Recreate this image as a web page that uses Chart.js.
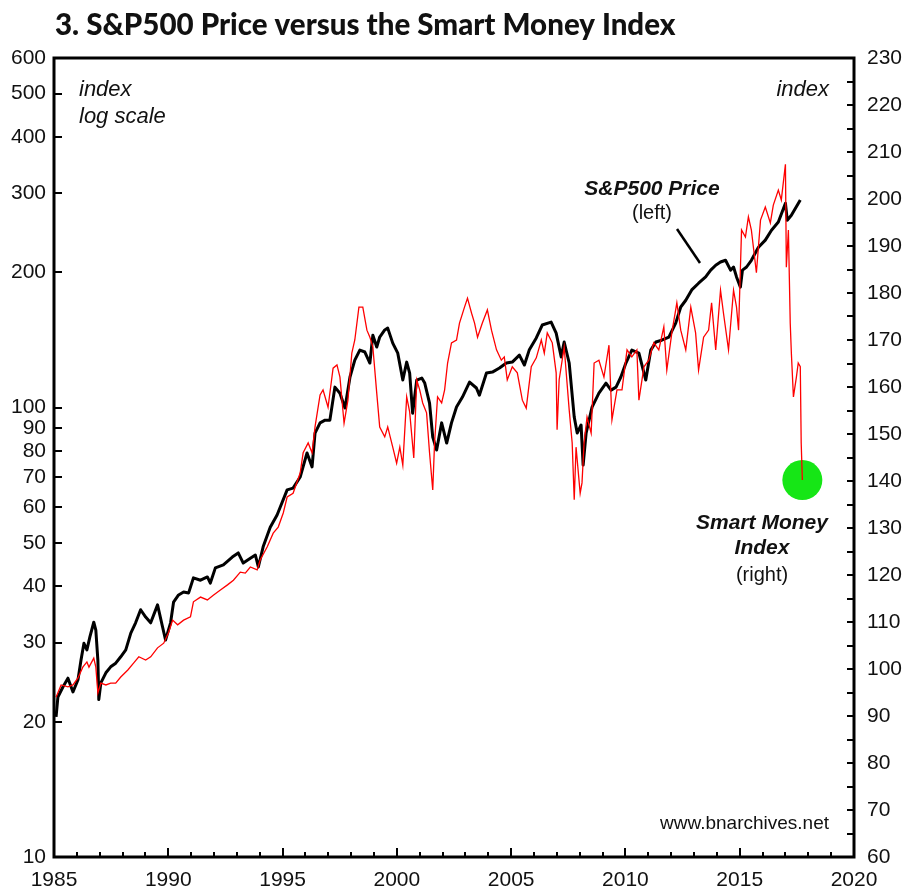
<!DOCTYPE html>
<html>
<head>
<meta charset="utf-8">
<script src="https://cdn.jsdelivr.net/npm/chart.js@4.4.0/dist/chart.umd.min.js"></script>
<style>
  html, body { margin: 0; padding: 0; background: #fff; }
</style>
</head>
<body>
<canvas id="myChart" width="909" height="890"></canvas>
<script>
// S&P500 price (left axis, log scale)
const spxDates = [
  1985.09, 1985.17, 1985.39, 1985.61, 1985.83, 1986.05, 1986.18, 1986.31, 1986.44, 1986.57,
  1986.74, 1986.83, 1986.92, 1986.96, 1987.05, 1987.27, 1987.48, 1987.70, 1987.92, 1988.14,
  1988.36, 1988.57, 1988.79, 1989.01, 1989.23, 1989.53, 1989.75, 1989.88, 1990.10, 1990.23,
  1990.45, 1990.67, 1990.89, 1991.10, 1991.41, 1991.71, 1991.84, 1992.06, 1992.41, 1992.80,
  1993.06, 1993.28, 1993.59, 1993.81, 1993.94, 1994.15, 1994.46, 1994.76, 1994.90, 1995.20,
  1995.46, 1995.77, 1996.07, 1996.29, 1996.42, 1996.64, 1996.86, 1997.07, 1997.29, 1997.51,
  1997.73, 1997.95, 1998.16, 1998.38, 1998.60, 1998.82, 1998.95, 1999.12, 1999.25, 1999.47,
  1999.60, 1999.82, 2000.04, 2000.26, 2000.43, 2000.56, 2000.69, 2000.87, 2001.09, 2001.22,
  2001.43, 2001.57, 2001.74, 2001.96, 2002.18, 2002.39, 2002.61, 2002.87, 2003.18, 2003.48,
  2003.61, 2003.92, 2004.18, 2004.49, 2004.79, 2005.05, 2005.36, 2005.58, 2005.79, 2006.10,
  2006.36, 2006.75, 2006.97, 2007.19, 2007.32, 2007.54, 2007.76, 2007.89, 2008.06, 2008.15,
  2008.28, 2008.54, 2008.84, 2009.15, 2009.37, 2009.59, 2009.80, 2010.02, 2010.28, 2010.59,
  2010.89, 2011.11, 2011.33, 2011.59, 2011.90, 2012.20, 2012.42, 2012.64, 2012.90, 2013.20,
  2013.51, 2013.73, 2013.95, 2014.16, 2014.38, 2014.60, 2014.73, 2014.86, 2015.03, 2015.12,
  2015.30, 2015.51, 2015.82, 2016.12, 2016.39, 2016.69, 2017.00, 2017.08, 2017.26, 2017.65
];
const spxValues = [
  20.5, 22.7, 23.9, 25.0, 23.3, 24.8, 27.4, 29.9, 28.9, 30.9,
  33.3, 32.0, 27.4, 22.4, 24.4, 25.7, 26.5, 27.0, 27.9, 28.9,
  31.5, 33.2, 35.5, 34.2, 33.2, 36.4, 32.5, 30.4, 33.2, 36.9,
  38.3, 38.9, 38.7, 41.8, 41.3, 42.0, 40.7, 44.0, 44.7, 46.5,
  47.5, 45.1, 46.2, 47.0, 44.2, 49.0, 54.2, 57.7, 60.1, 65.6,
  66.2, 70.1, 79.3, 73.8, 87.8, 92.5, 93.8, 93.8, 111.1, 107.7,
  99.8, 117.0, 127.6, 134.3, 133.0, 125.7, 145.0, 136.4, 143.6, 148.9,
  150.3, 139.2, 132.2, 115.2, 126.3, 119.4, 97.2, 115.2, 116.4, 113.4,
  102.3, 86.0, 80.5, 92.5, 83.4, 92.5, 100.3, 105.6, 114.0, 110.6,
  106.6, 119.4, 120.0, 122.5, 125.7, 126.3, 130.9, 124.4, 134.3, 142.9,
  152.7, 155.0, 146.5, 129.7, 140.0, 125.7, 95.3, 87.8, 91.5, 74.5,
  87.8, 100.3, 107.7, 113.4, 109.4, 111.1, 117.0, 125.7, 134.3, 132.2,
  115.2, 134.3, 140.0, 141.3, 143.6, 154.2, 167.5, 173.4, 182.8, 189.2,
  195.4, 202.3, 207.5, 210.9, 212.8, 202.3, 205.6, 195.4, 185.4, 202.3,
  205.6, 212.8, 227.5, 236.0, 248.3, 258.8, 285.1, 261.3, 268.0, 289.7
];

// Smart Money Index (right axis)
const smiDates = [
  1985.09, 1985.31, 1985.61, 1985.83, 1986.05, 1986.26, 1986.44, 1986.53, 1986.74, 1986.83,
  1986.92, 1987.05, 1987.27, 1987.48, 1987.70, 1987.92, 1988.23, 1988.49, 1988.71, 1989.01,
  1989.23, 1989.53, 1989.80, 1990.01, 1990.19, 1990.41, 1990.67, 1990.97, 1991.10, 1991.41,
  1991.71, 1991.97, 1992.28, 1992.59, 1992.85, 1993.15, 1993.37, 1993.59, 1993.89, 1994.02,
  1994.33, 1994.59, 1994.81, 1995.03, 1995.20, 1995.46, 1995.77, 1995.90, 1996.12, 1996.29,
  1996.42, 1996.64, 1996.77, 1996.99, 1997.21, 1997.38, 1997.51, 1997.69, 1997.86, 1998.03,
  1998.16, 1998.34, 1998.51, 1998.69, 1998.82, 1998.95, 1999.12, 1999.25, 1999.47, 1999.60,
  1999.82, 1999.99, 2000.13, 2000.26, 2000.43, 2000.56, 2000.74, 2000.87, 2001.00, 2001.13,
  2001.30, 2001.43, 2001.57, 2001.65, 2001.78, 2001.96, 2002.09, 2002.22, 2002.39, 2002.61,
  2002.74, 2002.96, 2003.09, 2003.27, 2003.40, 2003.53, 2003.74, 2003.96, 2004.14, 2004.36,
  2004.57, 2004.70, 2004.83, 2005.05, 2005.27, 2005.49, 2005.66, 2005.88, 2006.10, 2006.32,
  2006.45, 2006.58, 2006.80, 2006.97, 2007.01, 2007.10, 2007.32, 2007.54, 2007.67, 2007.76,
  2007.84, 2008.02, 2008.10, 2008.19, 2008.32, 2008.50, 2008.63, 2008.84, 2009.06, 2009.28,
  2009.41, 2009.63, 2009.85, 2010.07, 2010.28, 2010.50, 2010.59, 2010.81, 2011.02, 2011.24,
  2011.46, 2011.68, 2011.81, 2012.03, 2012.25, 2012.42, 2012.64, 2012.86, 2013.07, 2013.20,
  2013.42, 2013.64, 2013.77, 2013.95, 2014.16, 2014.29, 2014.51, 2014.73, 2014.86, 2014.95,
  2015.08, 2015.25, 2015.38, 2015.51, 2015.73, 2015.91, 2016.12, 2016.34, 2016.47, 2016.69,
  2016.82, 2017.00, 2017.04, 2017.13, 2017.21, 2017.26, 2017.35, 2017.48, 2017.56, 2017.65,
  2017.69, 2017.74
];
const smiValues = [
  94.0, 96.6, 96.2, 96.6, 98.1, 100.4, 101.5, 100.4, 102.3, 100.4,
  94.9, 97.0, 96.6, 97.0, 97.0, 98.3, 99.8, 101.3, 102.6, 101.9,
  102.6, 104.5, 105.5, 107.7, 110.4, 109.4, 110.4, 111.1, 114.3, 115.3,
  114.7, 115.7, 116.8, 117.9, 118.9, 120.6, 120.4, 121.7, 121.1, 123.2,
  126.0, 128.9, 130.2, 133.2, 136.6, 137.4, 141.7, 146.0, 148.1, 146.0,
  151.5, 158.3, 159.4, 155.7, 164.0, 164.7, 162.1, 152.3, 157.2, 167.2,
  170.0, 177.0, 177.0, 172.1, 170.6, 168.5, 158.7, 151.5, 149.4, 151.5,
  147.2, 143.8, 147.2, 143.4, 157.9, 154.7, 144.9, 161.5, 159.4, 156.6,
  154.5, 146.0, 138.1, 148.1, 157.9, 156.6, 159.4, 165.1, 169.4, 170.0,
  173.6, 177.0, 178.9, 175.7, 173.6, 170.6, 173.6, 176.4, 172.1, 167.9,
  165.7, 166.4, 161.5, 164.3, 163.0, 157.2, 155.5, 164.3, 166.2, 170.0,
  167.2, 171.5, 169.4, 163.0, 150.9, 161.5, 168.5, 155.1, 148.1, 136.0,
  147.2, 137.4, 139.6, 148.1, 153.6, 150.2, 165.1, 165.7, 162.1, 168.9,
  153.0, 159.4, 159.4, 167.9, 166.4, 167.9, 157.2, 164.3, 165.7, 169.4,
  167.9, 172.8, 163.6, 171.5, 177.9, 172.1, 167.9, 177.0, 171.5, 163.6,
  170.6, 172.1, 177.9, 167.9, 180.6, 175.7, 167.9, 180.6, 177.0, 172.1,
  193.4, 191.9, 196.2, 193.4, 184.3, 195.5, 198.3, 194.9, 198.7, 201.9,
  199.8, 207.4, 185.5, 193.4, 173.6, 167.2, 157.9, 162.1, 165.1, 164.3,
  148.1, 140.2
];

// latest reading, highlighted
const markerDate = [2017.74];
const markerValue = [140.2];

// axes
const yearLabels = [1985, 1990, 1995, 2000, 2005, 2010, 2015, 2020];
const yearMinor = [1986, 1987, 1988, 1989, 1991, 1992, 1993, 1994, 1996, 1997, 1998, 1999,
  2001, 2002, 2003, 2004, 2006, 2007, 2008, 2009, 2011, 2012, 2013, 2014, 2016, 2017, 2018, 2019];
const leftLabels = [10, 20, 30, 40, 50, 60, 70, 80, 90, 100, 200, 300, 400, 500, 600];
const rightLabels = [60, 70, 80, 90, 100, 110, 120, 130, 140, 150, 160, 170, 180, 190, 200, 210, 220, 230];
const rightMinor = [65, 75, 85, 95, 105, 115, 125, 135, 145, 155, 165, 175, 185, 195, 205, 215, 225];

const toPoints = (xs, ys) => xs.map((x, i) => ({ x: x, y: ys[i] }));
const tickFont = { family: 'Liberation Sans', size: 21 };

// frame, inward tick marks and the notes on the chart
const frame = {
  id: 'frame',
  afterDatasetsDraw(chart) {
    const { ctx, chartArea: a, scales } = chart;
    ctx.save();
    ctx.strokeStyle = '#000';
    ctx.lineWidth = 3;
    ctx.strokeRect(a.left, a.top, a.right - a.left, a.bottom - a.top);

    ctx.lineWidth = 2;
    ctx.beginPath();
    leftLabels.forEach(v => {
      const y = Math.round(scales.left.getPixelForValue(v));
      ctx.moveTo(a.left, y); ctx.lineTo(a.left + 8, y);
    });
    rightLabels.concat(rightMinor).forEach(v => {
      const y = Math.round(scales.right.getPixelForValue(v));
      ctx.moveTo(a.right, y); ctx.lineTo(a.right - 7, y);
    });
    yearLabels.forEach(v => {
      const x = Math.round(scales.x.getPixelForValue(v));
      ctx.moveTo(x, a.bottom); ctx.lineTo(x, a.bottom - 9);
    });
    yearMinor.forEach(v => {
      const x = Math.round(scales.x.getPixelForValue(v));
      ctx.moveTo(x, a.bottom); ctx.lineTo(x, a.bottom - 5);
    });
    ctx.stroke();

    // title, fitted to the original width
    const title = '3. S&P500 Price versus the Smart Money Index';
    ctx.font = '900 24px Lato';
    const size = 24 * 621 / ctx.measureText(title).width;
    ctx.font = '900 ' + size.toFixed(1) + 'px Lato';
    ctx.fillStyle = '#111';
    ctx.textAlign = 'left';
    ctx.textBaseline = 'alphabetic';
    ctx.fillText(title, 55, 35);

    ctx.textBaseline = 'middle';
    ctx.font = 'italic 22px Liberation Sans';
    ctx.fillText('index', 79, 90);
    ctx.fillText('log scale', 79, 117);
    ctx.textAlign = 'right';
    ctx.fillText('index', 829, 90);

    ctx.font = '19px Liberation Sans';
    ctx.fillText('www.bnarchives.net', 829, 824);

    ctx.textAlign = 'center';
    ctx.font = 'bold italic 21px Liberation Sans';
    ctx.fillText('S&P500 Price', 652, 189);
    ctx.fillText('Smart Money', 762, 523);
    ctx.fillText('Index', 762, 548);
    ctx.font = '20px Liberation Sans';
    ctx.fillText('(left)', 652, 213);
    ctx.fillText('(right)', 762, 575);

    ctx.lineWidth = 2.5;
    ctx.beginPath();
    ctx.moveTo(677, 229);
    ctx.lineTo(700, 263);
    ctx.stroke();
    ctx.restore();
  },
};

const ctx = document.getElementById('myChart');

new Chart(ctx, {
  type: 'line',
  data: {
    datasets: [
      {
        label: 'Smart Money Index',
        data: toPoints(smiDates, smiValues),
        yAxisID: 'right',
        borderColor: '#ff0000',
        borderWidth: 1.3,
        pointRadius: 0,
      },
      {
        label: 'S&P500 Price',
        data: toPoints(spxDates, spxValues),
        yAxisID: 'left',
        borderColor: '#000000',
        borderWidth: 3,
        borderJoinStyle: 'round',
        pointRadius: 0,
      },
      {
        label: 'latest',
        data: toPoints(markerDate, markerValue),
        yAxisID: 'right',
        showLine: false,
        pointRadius: 20,
        pointBackgroundColor: '#16e616',
        pointBorderColor: '#16e616',
        pointBorderWidth: 0,
      },
    ],
  },
  options: {
    responsive: false,
    animation: false,
    events: [],
    layout: { padding: { top: 58 } },
    plugins: {
      legend: { display: false },
      tooltip: { enabled: false },
    },
    scales: {
      x: {
        type: 'linear',
        min: 1985,
        max: 2020,
        grid: { display: false, drawTicks: false },
        border: { display: false },
        afterBuildTicks: s => { s.ticks = yearLabels.map(v => ({ value: v })); },
        afterFit: s => { s.height = 33; },
        ticks: {
          autoSkip: false,
          maxRotation: 0,
          padding: 11,
          color: '#111',
          font: tickFont,
          callback: v => String(v),
        },
      },
      left: {
        type: 'logarithmic',
        position: 'left',
        min: 10,
        max: 600,
        grid: { display: false, drawTicks: false },
        border: { display: false },
        afterBuildTicks: s => { s.ticks = leftLabels.map(v => ({ value: v })); },
        afterFit: s => { s.width = 54; },
        ticks: {
          autoSkip: false,
          padding: 8,
          color: '#111',
          font: tickFont,
          callback: v => String(v),
        },
      },
      right: {
        type: 'linear',
        position: 'right',
        min: 60,
        max: 230,
        grid: { display: false, drawTicks: false },
        border: { display: false },
        afterBuildTicks: s => { s.ticks = rightLabels.map(v => ({ value: v })); },
        afterFit: s => { s.width = 55; },
        ticks: {
          autoSkip: false,
          padding: 13,
          color: '#111',
          font: tickFont,
          callback: v => String(v),
        },
      },
    },
  },
  plugins: [frame],
});
</script>
</body>
</html>
